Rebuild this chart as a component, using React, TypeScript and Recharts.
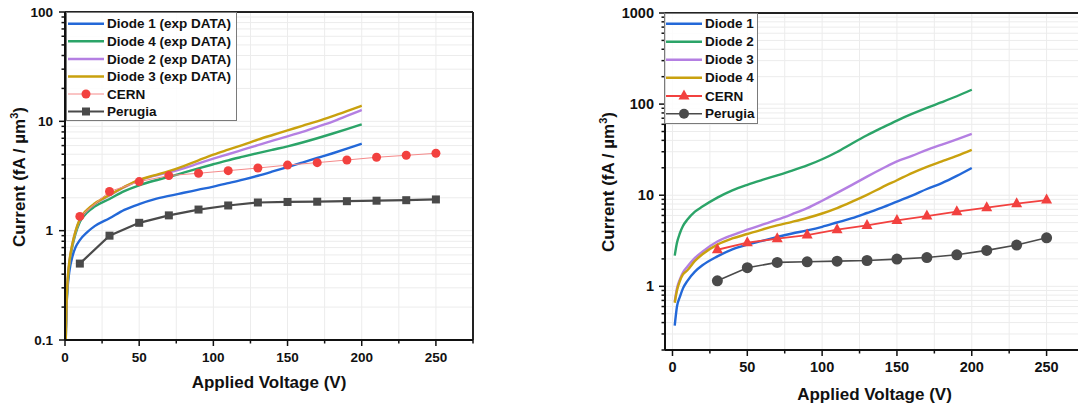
import { LineChart, Line, XAxis, YAxis, CartesianGrid, ReferenceLine } from 'recharts'

const FONT = '"Liberation Sans", Arial, Helvetica, sans-serif'

const BLUE = '#2368d8'
const GREEN = '#2ba468'
const PURPLE = '#b47fe2'
const GOLD = '#c9a10e'
const RED = '#f2413f'
const PINK = '#f58a8a'
const GRAY = '#4a4a4a'

// ---- left panel (exp DATA) ----
const leftVolts = [0.5, 1, 2, 3, 5, 7, 10, 15, 20, 30, 40, 50, 60, 70, 80, 90, 100, 110, 120, 130, 140, 150, 160, 170, 180, 190, 200]
const leftDiode1 = [0.12, 0.2, 0.33, 0.43, 0.58, 0.7, 0.82, 0.97, 1.1, 1.3, 1.55, 1.75, 1.93, 2.08, 2.22, 2.37, 2.53, 2.72, 2.93, 3.18, 3.48, 3.82, 4.2, 4.62, 5.08, 5.62, 6.25]
const leftDiode4 = [0.1, 0.19, 0.36, 0.5, 0.72, 0.93, 1.2, 1.47, 1.66, 1.95, 2.3, 2.6, 2.86, 3.1, 3.4, 3.72, 4.05, 4.4, 4.75, 5.12, 5.5, 5.9, 6.4, 7.0, 7.7, 8.5, 9.4]
const leftDiode2 = [0.1, 0.2, 0.38, 0.52, 0.75, 0.97, 1.26, 1.54, 1.75, 2.1, 2.5, 2.88, 3.17, 3.42, 3.72, 4.12, 4.55, 5.0, 5.5, 6.05, 6.65, 7.3, 8.0, 8.9, 9.9, 11.2, 12.7]
const leftDiode3 = [0.1, 0.21, 0.39, 0.53, 0.76, 0.98, 1.28, 1.56, 1.77, 2.12, 2.52, 2.92, 3.2, 3.5, 3.9, 4.4, 4.95, 5.5, 6.1, 6.8, 7.5, 8.25, 9.1, 10.0, 11.1, 12.4, 13.9]
const leftLabVolts = [10, 30, 50, 70, 90, 110, 130, 150, 170, 190, 210, 230, 250]
const leftCern = [1.35, 2.28, 2.81, 3.19, 3.35, 3.54, 3.74, 3.98, 4.19, 4.43, 4.69, 4.89, 5.1]
const leftPerugia = [0.5, 0.9, 1.18, 1.38, 1.56, 1.7, 1.81, 1.83, 1.84, 1.86, 1.88, 1.9, 1.93]

// ---- right panel ----
const rightVolts = [1.5, 3, 5, 7, 10, 15, 20, 30, 40, 50, 60, 70, 80, 90, 100, 110, 120, 130, 140, 150, 160, 170, 180, 190, 200]
const rightDiode1 = [0.37, 0.6, 0.77, 0.95, 1.15, 1.45, 1.7, 2.13, 2.55, 2.87, 3.15, 3.48, 3.8, 4.11, 4.5, 5.02, 5.6, 6.38, 7.3, 8.5, 9.9, 11.7, 13.6, 16.3, 19.9]
const rightDiode2 = [2.17, 3.0, 3.85, 4.6, 5.4, 6.6, 7.5, 9.4, 11.3, 13.0, 14.7, 16.5, 18.6, 21.2, 24.8, 29.8, 37, 45.5, 55, 66, 78, 91, 105, 122, 144]
const rightDiode3 = [0.68, 0.95, 1.2, 1.42, 1.65, 2.05, 2.4, 3.1, 3.65, 4.18, 4.75, 5.38, 6.2, 7.2, 8.7, 10.6, 13.0, 16.0, 19.5, 23.5, 27, 31.5, 36, 41, 47]
const rightDiode4 = [0.66, 0.9, 1.15, 1.35, 1.5, 1.9, 2.25, 2.87, 3.35, 3.75, 4.2, 4.66, 5.1, 5.62, 6.3, 7.23, 8.5, 10.1, 12.2, 14.6, 17.5, 20.5, 23.5, 27.0, 31.5]
const rightLabVolts = [30, 50, 70, 90, 110, 130, 150, 170, 190, 210, 230, 250]
const rightCern = [2.52, 3.01, 3.33, 3.65, 4.18, 4.66, 5.28, 5.91, 6.59, 7.29, 8.07, 8.85]
const rightPerugia = [1.15, 1.6, 1.83, 1.86, 1.89, 1.92, 1.99, 2.07, 2.22, 2.48, 2.84, 3.41]

// ---- ticks ----
const xTicks = [0, 25, 50, 75, 100, 125, 150, 175, 200, 225, 250, 275]
const xMajor = [0, 50, 100, 150, 200, 250]
const leftYTicks = [0.1, 0.2, 0.3, 0.4, 0.5, 0.6, 0.7, 0.8, 0.9, 1, 2, 3, 4, 5, 6, 7, 8, 9, 10, 20, 30, 40, 50, 60, 70, 80, 90, 100]
const rightYTicks = [0.2, 0.3, 0.4, 0.5, 0.6, 0.7, 0.8, 0.9, 1, 2, 3, 4, 5, 6, 7, 8, 9, 10, 20, 30, 40, 50, 60, 70, 80, 90, 100, 200, 300, 400, 500, 600, 700, 800, 900, 1000]
const yMajor = [0.1, 1, 10, 100, 1000]

const zip = (xs: number[], ys: number[]) => xs.map((v, i) => ({ v, y: ys[i] }))

function Square(p: any) {
  return <rect key={'s' + p.index} x={p.cx - 4} y={p.cy - 4} width={8} height={8} fill={GRAY} />
}
function Dot(color: string, r: number) {
  return (p: any) => <circle key={'c' + p.index} cx={p.cx} cy={p.cy} r={r} fill={color} stroke="none" />
}
function Tri(p: any) {
  const { cx, cy } = p
  return <path key={'t' + p.index} d={`M${cx},${cy - 6.5} L${cx + 5.5},${cy + 3.5} L${cx - 5.5},${cy + 3.5} Z`} fill={RED} />
}

function makeXTick(bottom: number, fs: number) {
  return (p: any) => {
    const v = p.payload.value
    const major = xMajor.includes(v)
    return (
      <g key={'xt' + v}>
        <line x1={p.x} x2={p.x} y1={bottom} y2={bottom + (major ? 6 : 3.5)} stroke="#111" strokeWidth={1.5} />
        {major && (
          <text x={p.x} y={bottom + 17} textAnchor="middle" dominantBaseline="central"
            fontFamily={FONT} fontWeight="bold" fontSize={fs} fill="#111">{v}</text>
        )}
      </g>
    )
  }
}

function makeYTick(left: number, fs: number, gap: number) {
  return (p: any) => {
    const v = p.payload.value
    const major = yMajor.includes(v)
    return (
      <g key={'yt' + v}>
        <line x1={left} x2={left - (major ? 6 : 3.5)} y1={p.y} y2={p.y} stroke="#111" strokeWidth={1.5} />
        {major && (
          <text x={left - gap} y={p.y} textAnchor="end" dominantBaseline="central"
            fontFamily={FONT} fontWeight="bold" fontSize={fs} fill="#111">{v}</text>
        )}
      </g>
    )
  }
}

type Entry = { name: string; color: string; marker?: string; markerColor?: string; width?: number }

function LegendBox({ left, top, width, height, entries, rowY, sample, fs }:
  { left: number; top: number; width: number; height: number; entries: Entry[]; rowY: number[]; sample: number; fs: number }) {
  return (
    <div style={{ position: 'absolute', left, top, width, height, border: '1px solid #7a7a7a', background: 'rgba(255,255,255,0.85)', boxSizing: 'border-box' }}>
      <svg width={width} height={height} style={{ position: 'absolute', left: 0, top: 0 }}>
        {entries.map((e, i) => {
          const y = rowY[i] - top
          const mid = 1 + sample / 2
          const mc = e.markerColor ?? e.color
          return (
            <g key={e.name}>
              <line x1={1} x2={1 + sample} y1={y} y2={y} stroke={e.color} strokeWidth={e.width ?? 2.5} />
              {e.marker === 'circle' && <circle cx={mid} cy={y} r={4.5} fill={mc} />}
              {e.marker === 'bigcircle' && <circle cx={mid} cy={y} r={5} fill={mc} />}
              {e.marker === 'square' && <rect x={mid - 4} y={y - 4} width={8} height={8} fill={mc} />}
              {e.marker === 'tri' && <path d={`M${mid},${y - 6.5} L${mid + 5.5},${y + 3.5} L${mid - 5.5},${y + 3.5} Z`} fill={mc} />}
              <text x={sample + 4} y={y} dominantBaseline="central" fontFamily={FONT} fontWeight="bold" fontSize={fs} fill="#111">{e.name}</text>
            </g>
          )
        })}
      </svg>
    </div>
  )
}

const titleStyle: any = { position: 'absolute', fontFamily: FONT, fontWeight: 'bold', fontSize: 17, color: '#111', whiteSpace: 'nowrap' }

function YTitle({ cx, cy }: { cx: number; cy: number }) {
  return (
    <div style={{ ...titleStyle, left: cx, top: cy, transform: 'translate(-50%, -50%) rotate(-90deg)' }}>
      Current (fA / µm<sup style={{ fontSize: 11 }}>3</sup>)
    </div>
  )
}

function XTitle({ cx, cy }: { cx: number; cy: number }) {
  return (
    <div style={{ ...titleStyle, left: cx, top: cy, transform: 'translate(-50%, -50%)' }}>Applied Voltage (V)</div>
  )
}

function LeftPanel() {
  return (
    <div style={{ position: 'absolute', left: 0, top: 0 }}>
      <LineChart width={480} height={407} margin={{ top: 12, right: 7, left: 0, bottom: 0 }}>
        <CartesianGrid stroke="#ececec" strokeWidth={1} />
        <XAxis dataKey="v" type="number" domain={[0, 275]} ticks={xTicks} interval={0} height={67}
          axisLine={{ stroke: '#111', strokeWidth: 2 }} tickLine={false} tick={makeXTick(340, 13.5)} allowDataOverflow />
        <YAxis type="number" scale="log" domain={[0.1, 100]} ticks={leftYTicks} interval={0} width={65}
          axisLine={{ stroke: '#111', strokeWidth: 2 }} tickLine={false} tick={makeYTick(65, 13.5, 12)} allowDataOverflow />
        <ReferenceLine y={100} stroke="#222" strokeWidth={2} />
        <ReferenceLine x={275} stroke="#222" strokeWidth={2} />
        <Line data={zip(leftVolts, leftDiode1)} dataKey="y" type="monotone" stroke={BLUE} strokeWidth={2.4} dot={false} isAnimationActive={false} />
        <Line data={zip(leftVolts, leftDiode4)} dataKey="y" type="monotone" stroke={GREEN} strokeWidth={2.4} dot={false} isAnimationActive={false} />
        <Line data={zip(leftVolts, leftDiode2)} dataKey="y" type="monotone" stroke={PURPLE} strokeWidth={2.4} dot={false} isAnimationActive={false} />
        <Line data={zip(leftVolts, leftDiode3)} dataKey="y" type="monotone" stroke={GOLD} strokeWidth={2.4} dot={false} isAnimationActive={false} />
        <Line data={zip(leftLabVolts, leftCern)} dataKey="y" type="linear" stroke={PINK} strokeWidth={1} dot={Dot(RED, 4.5)} isAnimationActive={false} />
        <Line data={zip(leftLabVolts, leftPerugia)} dataKey="y" type="linear" stroke={GRAY} strokeWidth={2.2} dot={Square} isAnimationActive={false} />
      </LineChart>
      <LegendBox left={66} top={12} width={171} height={109} sample={36} fs={13.5}
        rowY={[22.7, 40.3, 58, 75.5, 93, 110.5]}
        entries={[
          { name: 'Diode 1 (exp DATA)', color: BLUE },
          { name: 'Diode 4 (exp DATA)', color: GREEN },
          { name: 'Diode 2 (exp DATA)', color: PURPLE },
          { name: 'Diode 3 (exp DATA)', color: GOLD },
          { name: 'CERN', color: PINK, marker: 'circle', markerColor: RED, width: 1 },
          { name: 'Perugia', color: GRAY, marker: 'square', width: 2.2 },
        ]} />
      <YTitle cx={19} cy={177} />
      <XTitle cx={269} cy={383} />
    </div>
  )
}

function RightPanel() {
  return (
    <div style={{ position: 'absolute', left: 600, top: 0 }}>
      <LineChart width={490} height={407} margin={{ top: 13, right: 6, left: 0, bottom: 0 }}>
        <CartesianGrid stroke="#ececec" strokeWidth={1} />
        <XAxis dataKey="v" type="number" domain={[-5, 275]} ticks={xTicks} interval={0} height={57}
          axisLine={{ stroke: '#111', strokeWidth: 2 }} tickLine={false} tick={makeXTick(350, 14.5)} allowDataOverflow />
        <YAxis type="number" scale="log" domain={[0.2, 1000]} ticks={rightYTicks} interval={0} width={65}
          axisLine={{ stroke: '#111', strokeWidth: 2 }} tickLine={false} tick={makeYTick(65, 14.5, 11)} allowDataOverflow />
        <ReferenceLine y={1000} stroke="#222" strokeWidth={2} />
        <Line data={zip(rightVolts, rightDiode1)} dataKey="y" type="monotone" stroke={BLUE} strokeWidth={2.4} dot={false} isAnimationActive={false} />
        <Line data={zip(rightVolts, rightDiode2)} dataKey="y" type="monotone" stroke={GREEN} strokeWidth={2.4} dot={false} isAnimationActive={false} />
        <Line data={zip(rightVolts, rightDiode3)} dataKey="y" type="monotone" stroke={PURPLE} strokeWidth={2.4} dot={false} isAnimationActive={false} />
        <Line data={zip(rightVolts, rightDiode4)} dataKey="y" type="monotone" stroke={GOLD} strokeWidth={2.4} dot={false} isAnimationActive={false} />
        <Line data={zip(rightLabVolts, rightCern)} dataKey="y" type="linear" stroke={RED} strokeWidth={1.8} dot={Tri} isAnimationActive={false} />
        <Line data={zip(rightLabVolts, rightPerugia)} dataKey="y" type="linear" stroke={GRAY} strokeWidth={1.6} dot={Dot(GRAY, 5.5)} isAnimationActive={false} />
      </LineChart>
      <LegendBox left={64} top={13} width={94} height={111} sample={36} fs={13.5}
        rowY={[22.7, 40.7, 58.7, 76.7, 95, 112.7]}
        entries={[
          { name: 'Diode 1', color: BLUE },
          { name: 'Diode 2', color: GREEN },
          { name: 'Diode 3', color: PURPLE },
          { name: 'Diode 4', color: GOLD },
          { name: 'CERN', color: RED, marker: 'tri', width: 1.8 },
          { name: 'Perugia', color: GRAY, marker: 'bigcircle', width: 1.6 },
        ]} />
      <YTitle cx={8} cy={182} />
      <XTitle cx={274.5} cy={395} />
    </div>
  )
}

export default function App() {
  return (
    <div style={{ position: 'fixed', left: 0, top: 0, width: 1078, height: 407, overflow: 'hidden', background: '#fff' }}>
      <LeftPanel />
      <RightPanel />
    </div>
  )
}
